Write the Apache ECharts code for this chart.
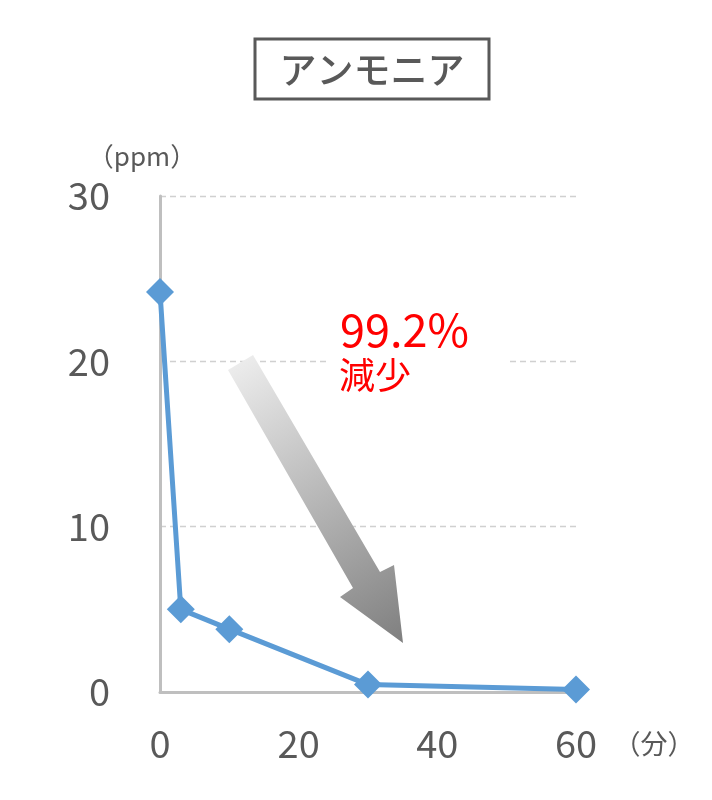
<!DOCTYPE html>
<html>
<head>
<meta charset="utf-8">
<script src="https://cdn.jsdelivr.net/npm/echarts@6/dist/echarts.min.js"></script>
<style>
  html, body { margin: 0; padding: 0; background: #fff; }
  #chart { width: 712px; height: 800px; }
</style>
</head>
<body>
<div id="chart"></div>
<script>
const minutes = [0, 3, 10, 30, 60];
const ammonia = [24.2, 5.0, 3.8, 0.45, 0.15];
const titleText = 'アンモニア';
const noteLines = ['99.2%', '減少'];

const chart = echarts.init(document.getElementById('chart'));
const font = '"Noto Sans CJK JP", "Noto Sans", sans-serif';
const grey = '#595959';

const option = {
  backgroundColor: '#ffffff',
  animation: false,
  grid: { left: 160, right: 136, top: 196, bottom: 108 },
  xAxis: {
    type: 'value',
    min: 0, max: 60, interval: 20,
    axisLine: { lineStyle: { color: '#bfbfbf', width: 3 } },
    axisTick: { show: false },
    splitLine: { show: false },
    axisLabel: { color: grey, fontSize: 38, fontFamily: font, margin: 33 }
  },
  yAxis: {
    type: 'value',
    min: 0, max: 30, interval: 10,
    axisLine: { show: true, lineStyle: { color: '#bfbfbf', width: 3 } },
    axisTick: { show: false },
    splitLine: { lineStyle: { color: '#d0d0d0', type: [6, 4], width: 1.3 } },
    axisLabel: { color: grey, fontSize: 38, fontFamily: font, margin: 50 }
  },
  graphic: [
    {
      type: 'rect',
      shape: { x: 255, y: 39, width: 234, height: 60 },
      style: { fill: '#fff', stroke: grey, lineWidth: 3 }
    },
    {
      type: 'text', x: 372, y: 70,
      style: { text: titleText, fill: grey, font: '500 37px ' + font, align: 'center', verticalAlign: 'middle' }
    },
    {
      type: 'text', x: 142, y: 156,
      style: { text: '（ppm）', fill: grey, font: '26px ' + font, align: 'center', verticalAlign: 'middle' }
    },
    {
      type: 'text', x: 654, y: 744,
      style: { text: '（分）', fill: grey, font: '27px ' + font, align: 'center', verticalAlign: 'middle' }
    },
    {
      type: 'rect', z: 5,
      shape: { x: 326, y: 300, width: 184, height: 100 },
      style: { fill: '#fff' }
    },
    {
      type: 'text', x: 340, y: 330, z: 6,
      style: { text: noteLines[0], fill: '#ff0000', font: '45px ' + font, verticalAlign: 'middle' }
    },
    {
      type: 'text', x: 339, y: 375, z: 6,
      style: { text: noteLines[1], fill: '#ff0000', font: '36px ' + font, verticalAlign: 'middle' }
    },
    {
      type: 'polygon', z: 4,
      shape: {
        points: [[228, 370], [253, 355], [380, 572], [394, 565], [403, 643], [340, 597], [353, 588]]
      },
      style: {
        fill: new echarts.graphic.LinearGradient(0, 0, 1, 1, [
          { offset: 0, color: '#f0f0f0' },
          { offset: 1, color: '#7f7f7f' }
        ])
      }
    }
  ],
  series: [{
    type: 'line',
    data: minutes.map((m, i) => [m, ammonia[i]]),
    symbol: 'diamond',
    symbolSize: 28,
    clip: false,
    z: 10,
    lineStyle: { color: '#5b9bd5', width: 5 },
    itemStyle: { color: '#5b9bd5' }
  }]
};

chart.setOption(option);
</script>
</body>
</html>
